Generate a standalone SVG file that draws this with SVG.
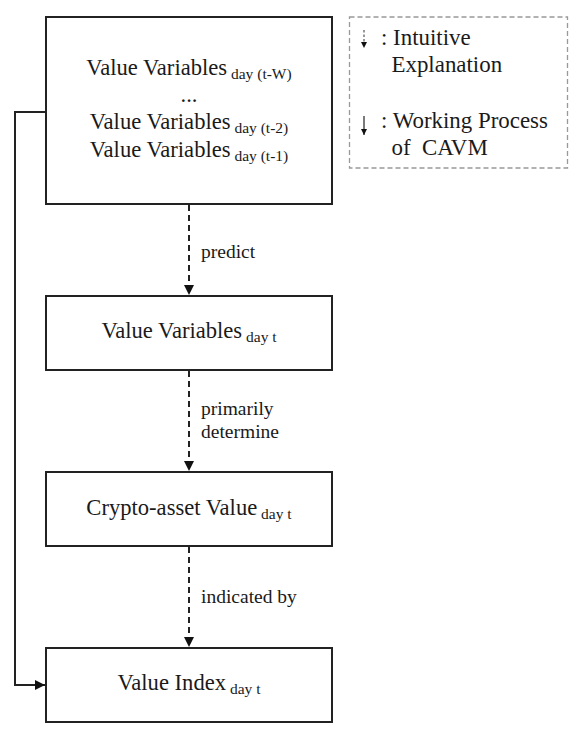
<svg xmlns="http://www.w3.org/2000/svg" width="582" height="735" viewBox="0 0 582 735">
<style>
.box{fill:#fff;stroke:#222;stroke-width:2}
.t{font-size:22.6px;fill:#1a1a1a;text-anchor:middle}
.sub{font-size:15.5px}
.lbl{font-size:19.5px;fill:#1a1a1a}
.lg{font-size:22.9px;fill:#1a1a1a}
.dash{fill:none;stroke:#222;stroke-width:2;stroke-dasharray:6 4}
.solid{fill:none;stroke:#222;stroke-width:2}
</style>
<defs>
<marker id="ah" viewBox="0 0 10 10" refX="10" refY="5" markerWidth="10" markerHeight="10" markerUnits="userSpaceOnUse" orient="auto">
<path d="M0,0 L10,5 L0,10 Z" fill="#111"/>
</marker>
<marker id="ahs" viewBox="0 0 10 10" refX="10" refY="5" markerWidth="6" markerHeight="6" markerUnits="userSpaceOnUse" orient="auto">
<path d="M0,0 L10,5 L0,10 Z" fill="#111"/>
</marker>
</defs>
<g id="legend">
<rect x="349.5" y="17" width="218" height="151" fill="#fff" stroke="#999" stroke-width="1.3" stroke-dasharray="5 3"/>
<line x1="364" y1="30" x2="364" y2="48" stroke="#333" stroke-width="1" stroke-dasharray="2.5 2" marker-end="url(#ahs)"/>
<line x1="364" y1="116" x2="364" y2="135" stroke="#222" stroke-width="1.2" marker-end="url(#ahs)"/>
<text class="lg" font-family="Liberation Serif" x="381" y="45">: Intuitive</text>
<text class="lg" font-family="Liberation Serif" x="391.5" y="72">Explanation</text>
<text class="lg" font-family="Liberation Serif" x="381" y="128">: Working Process</text>
<text class="lg" font-family="Liberation Serif" x="391.5" y="155" xml:space="preserve">of  CAVM</text>
</g>
<g id="connectors">
<line class="dash" x1="189" y1="205" x2="189" y2="295" marker-end="url(#ah)"/>
<line class="dash" x1="189" y1="371" x2="189" y2="471" marker-end="url(#ah)"/>
<line class="dash" x1="189" y1="547" x2="189" y2="647" marker-end="url(#ah)"/>
<polyline class="solid" points="46,112 15,112 15,685 45,685" marker-end="url(#ah)"/>
<text class="lbl" font-family="Liberation Serif" x="201" y="258">predict</text>
<text class="lbl" font-family="Liberation Serif" x="201" y="415">primarily</text>
<text class="lbl" font-family="Liberation Serif" x="201" y="438">determine</text>
<text class="lbl" font-family="Liberation Serif" x="201" y="603">indicated by</text>
</g>
<g id="n1">
<rect class="box" x="46" y="17" width="286" height="187"/>
<text class="t" font-family="Liberation Serif" x="189" y="75">Value Variables<tspan class="sub" dy="4"> day (t-W)</tspan></text>
<text class="t" font-family="Liberation Serif" x="189" y="102">...</text>
<text class="t" font-family="Liberation Serif" x="189" y="129">Value Variables<tspan class="sub" dy="4"> day (t-2)</tspan></text>
<text class="t" font-family="Liberation Serif" x="189" y="157">Value Variables<tspan class="sub" dy="4"> day (t-1)</tspan></text>
</g>
<g id="n2">
<rect class="box" x="46" y="296" width="286" height="74"/>
<text class="t" font-family="Liberation Serif" x="189" y="338">Value Variables<tspan class="sub" dy="4"> day t</tspan></text>
</g>
<g id="n3">
<rect class="box" x="46" y="472" width="286" height="74"/>
<text class="t" font-family="Liberation Serif" x="189" y="515">Crypto-asset Value<tspan class="sub" dy="4"> day t</tspan></text>
</g>
<g id="n4">
<rect class="box" x="46" y="648" width="286" height="74"/>
<text class="t" font-family="Liberation Serif" x="189" y="690">Value Index<tspan class="sub" dy="4"> day t</tspan></text>
</g>
</svg>
